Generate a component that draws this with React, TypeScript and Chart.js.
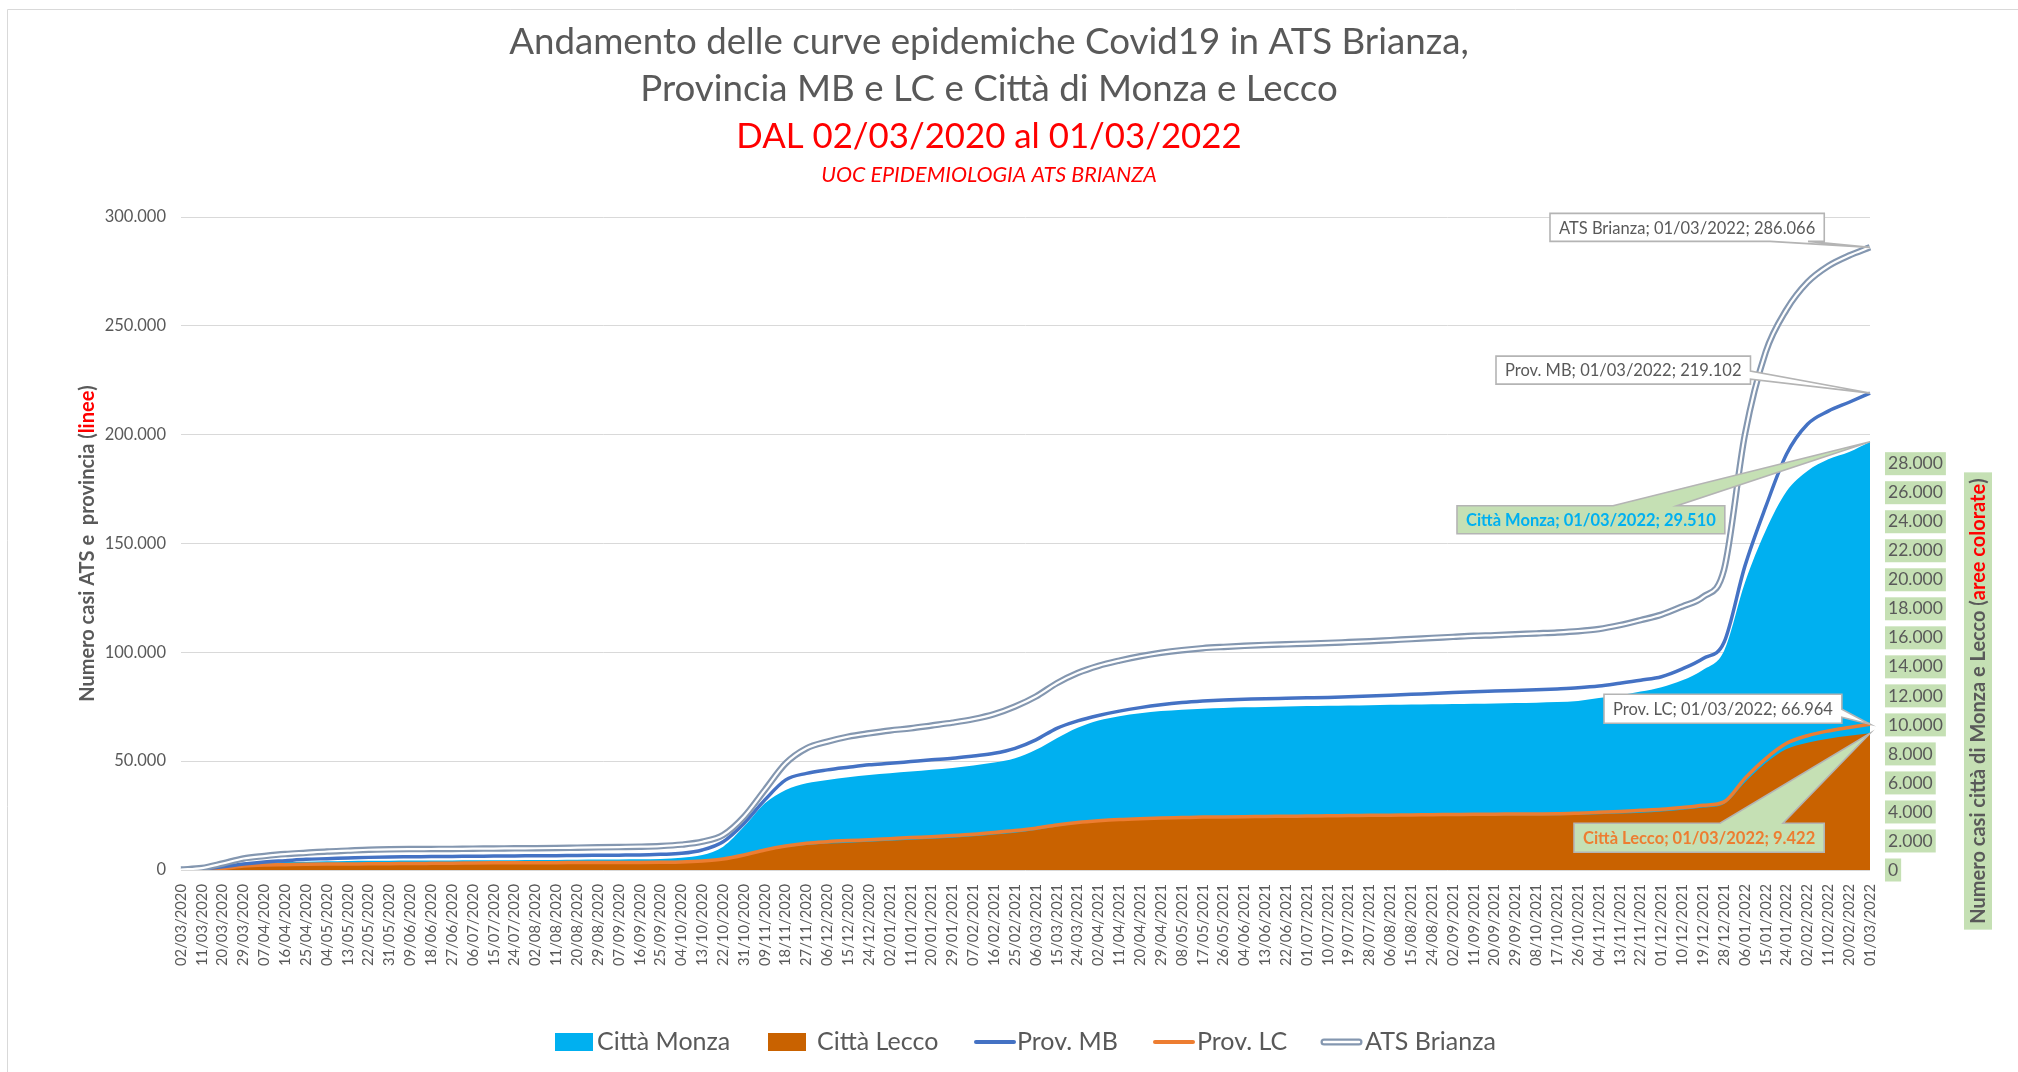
import React, { useEffect, useRef } from 'react';
import { Chart, registerables } from 'chart.js';

Chart.register(...registerables);

const dateLabels = [
  '02/03/2020', '11/03/2020', '20/03/2020', '29/03/2020', '07/04/2020', '16/04/2020', '25/04/2020', '04/05/2020', '13/05/2020', '22/05/2020',
  '31/05/2020', '09/06/2020', '18/06/2020', '27/06/2020', '06/07/2020', '15/07/2020', '24/07/2020', '02/08/2020', '11/08/2020', '20/08/2020',
  '29/08/2020', '07/09/2020', '16/09/2020', '25/09/2020', '04/10/2020', '13/10/2020', '22/10/2020', '31/10/2020', '09/11/2020', '18/11/2020',
  '27/11/2020', '06/12/2020', '15/12/2020', '24/12/2020', '02/01/2021', '11/01/2021', '20/01/2021', '29/01/2021', '07/02/2021', '16/02/2021',
  '25/02/2021', '06/03/2021', '15/03/2021', '24/03/2021', '02/04/2021', '11/04/2021', '20/04/2021', '29/04/2021', '08/05/2021', '17/05/2021',
  '26/05/2021', '04/06/2021', '13/06/2021', '22/06/2021', '01/07/2021', '10/07/2021', '19/07/2021', '28/07/2021', '06/08/2021', '15/08/2021',
  '24/08/2021', '02/09/2021', '11/09/2021', '20/09/2021', '29/09/2021', '08/10/2021', '17/10/2021', '26/10/2021', '04/11/2021', '13/11/2021',
  '22/11/2021', '01/12/2021', '10/12/2021', '19/12/2021', '28/12/2021', '06/01/2022', '15/01/2022', '24/01/2022', '02/02/2022', '11/02/2022',
  '20/02/2022', '01/03/2022',
];

const atsBrianza = [
  200, 900, 3000, 5300, 6400, 7300, 7900, 8500, 8900, 9300,
  9500, 9600, 9650, 9700, 9800, 9850, 9950, 10000, 10100, 10250,
  10400, 10550, 10700, 11000, 11650, 13000, 16100, 24500, 36800, 49000,
  55900, 59000, 61300, 62800, 64100, 65100, 66400, 67700, 69300, 71600,
  75100, 79700, 85800, 90500, 93800, 96200, 98200, 99800, 101000, 101900,
  102500, 103000, 103400, 103700, 104000, 104300, 104700, 105100, 105600, 106100,
  106600, 107100, 107600, 107900, 108300, 108700, 109100, 109700, 110700, 112500,
  114800, 117300, 121100, 125500, 138000, 200000, 238000, 257500, 270000, 277500,
  282300, 286066,
];

const provMB = [
  100, 500, 1500, 2750, 3700, 4300, 4900, 5200, 5500, 5800,
  6000, 6080, 6150, 6230, 6300, 6380, 6450, 6530, 6600, 6680,
  6750, 6820, 6900, 7200, 7650, 9200, 13000, 21400, 32200, 41400,
  44400, 46000, 47200, 48300, 49000, 49800, 50600, 51300, 52400, 53600,
  55900, 59800, 65100, 68500, 71000, 73000, 74600, 75900, 76900, 77600,
  78100, 78400, 78700, 78900, 79100, 79300, 79600, 79900, 80300, 80700,
  81100, 81500, 81900, 82200, 82500, 82800, 83200, 83700, 84500, 85800,
  87200, 88800, 92400, 97200, 104600, 139600, 166900, 191100, 204800, 210800,
  214900, 219102,
];

const provLC = [
  50, 150, 700, 1800, 2300, 2450, 2600, 2700, 2760, 2830,
  2900, 2980, 3050, 3120, 3200, 3280, 3350, 3370, 3380, 3400,
  3420, 3440, 3460, 3550, 3680, 4140, 5060, 6900, 9200, 11000,
  12300, 13000, 13500, 13900, 14400, 14900, 15300, 15800, 16400, 17200,
  18100, 19200, 20700, 21800, 22600, 23200, 23600, 23900, 24100, 24300,
  24400, 24500, 24600, 24700, 24800, 24900, 25000, 25100, 25200, 25300,
  25400, 25500, 25600, 25650, 25700, 25750, 25800, 26100, 26500, 26900,
  27400, 27900, 28700, 29700, 31300, 42100, 51200, 58200, 61700, 63900,
  65500, 66964,
];

const cittaMonza = [
  0, 50, 280, 410, 500, 550, 575, 600, 620, 630,
  640, 648, 655, 662, 670, 675, 680, 685, 690, 700,
  715, 728, 740, 760, 850, 1030, 1610, 2990, 4600, 5520,
  5980, 6210, 6390, 6550, 6670, 6780, 6900, 7030, 7200, 7400,
  7700, 8280, 9080, 9800, 10300, 10600, 10800, 10950, 11050, 11120,
  11170, 11210, 11240, 11270, 11300, 11320, 11340, 11360, 11380, 11400,
  11420, 11440, 11460, 11480, 11500, 11530, 11570, 11650, 11850, 12050,
  12300, 12600, 13070, 13800, 15100, 19800, 23400, 26100, 27500, 28300,
  28800, 29510,
];

const cittaLecco = [
  0, 30, 90, 230, 300, 320, 345, 360, 370, 380,
  390, 402, 415, 428, 440, 445, 450, 455, 460, 463,
  466, 468, 470, 485, 505, 575, 690, 965, 1310, 1560,
  1720, 1820, 1880, 1950, 2020, 2090, 2160, 2230, 2320, 2440,
  2570, 2760, 2990, 3200, 3350, 3450, 3530, 3590, 3630, 3660,
  3680, 3690, 3700, 3710, 3720, 3725, 3730, 3735, 3740, 3745,
  3750, 3755, 3760, 3765, 3770, 3775, 3780, 3810, 3850, 3900,
  3950, 4030, 4150, 4300, 4550, 6030, 7370, 8330, 8770, 9050,
  9250, 9422,
];

const leftTicks = [0, 50000, 100000, 150000, 200000, 250000, 300000];
const rightTicks = [0, 2000, 4000, 6000, 8000, 10000, 12000, 14000, 16000, 18000, 20000, 22000, 24000, 26000, 28000];
const LEFT_MAX = 300000;
const RIGHT_MAX = 45000;

const TITLE_LINES = [
  'Andamento delle curve epidemiche Covid19 in ATS Brianza,',
  'Provincia MB e LC e Città di Monza e Lecco',
  'DAL 02/03/2020 al 01/03/2022',
  'UOC EPIDEMIOLOGIA ATS BRIANZA',
];

const C_MONZA = '#00B0F0';
const C_LECCO = '#C96200';
const C_MB = '#4472C4';
const C_LC = '#ED7D31';
const C_ATS = '#8497B0';
const C_GREEN = '#C5E0B4';
const C_TEXT = '#595959';
const FONT = 'Lato, "Open Sans", sans-serif';

const fmt = (v: number) => String(Math.round(v)).replace(/\B(?=(\d{3})+(?!\d))/g, '.');

type Callout = {
  text: string;
  series: number[];
  axis: 'y' | 'y1';
  dx: number; dy: number; w: number; h: number;
  edge: 'top' | 'bottom' | 'right';
  base: [number, number];
  fill: string;
  color: string;
  bold: boolean;
};

const callouts: Callout[] = [
  { text: 'ATS Brianza', series: atsBrianza, axis: 'y', dx: -320, dy: -34, w: 264, h: 28, edge: 'bottom', base: [220, 258], fill: '#FFFFFF', color: C_TEXT, bold: false },
  { text: 'Prov. MB', series: provMB, axis: 'y', dx: -374, dy: -37, w: 244, h: 28, edge: 'right', base: [15, 23], fill: '#FFFFFF', color: C_TEXT, bold: false },
  { text: 'Città Monza', series: cittaMonza, axis: 'y1', dx: -413, dy: 64, w: 263, h: 28, edge: 'top', base: [156, 220], fill: C_GREEN, color: C_MONZA, bold: true },
  { text: 'Prov. LC', series: provLC, axis: 'y', dx: -266, dy: -30, w: 229, h: 29, edge: 'right', base: [15, 23], fill: '#FFFFFF', color: C_TEXT, bold: false },
  { text: 'Città Lecco', series: cittaLecco, axis: 'y1', dx: -296, dy: 90, w: 248, h: 29, edge: 'top', base: [146, 209], fill: C_GREEN, color: C_LC, bold: true },
];

function drawRich(ctx: CanvasRenderingContext2D, parts: [string, string][], x: number, y: number) {
  const total = parts.reduce((s, [t]) => s + ctx.measureText(t).width, 0);
  let px = x - total / 2;
  ctx.textAlign = 'left';
  for (const [t, c] of parts) {
    ctx.fillStyle = c;
    ctx.fillText(t, px, y);
    px += ctx.measureText(t).width;
  }
  return total;
}

const decorPlugin = {
  id: 'decor',
  afterDraw(chart: any) {
    const ctx: CanvasRenderingContext2D = chart.ctx;
    const xs = chart.scales.x;
    ctx.save();

    // frame
    ctx.strokeStyle = '#D9D9D9';
    ctx.lineWidth = 1;
    ctx.beginPath();
    ctx.moveTo(7.5, 1072);
    ctx.lineTo(7.5, 9.5);
    ctx.lineTo(2018, 9.5);
    ctx.stroke();

    // titles
    const cx = 989;
    ctx.textAlign = 'center';
    ctx.textBaseline = 'middle';
    ctx.fillStyle = C_TEXT;
    ctx.font = `36.7px ${FONT}`;
    ctx.fillText(TITLE_LINES[0], cx, 42);
    ctx.fillText(TITLE_LINES[1], cx, 89);
    ctx.fillStyle = '#FF0000';
    ctx.font = `34.8px ${FONT}`;
    ctx.fillText(TITLE_LINES[2], cx, 137);
    ctx.font = `italic 21.5px ${FONT}`;
    ctx.fillText(TITLE_LINES[3], cx, 175);

    // left axis title
    const midY = (chart.chartArea.top + chart.chartArea.bottom) / 2;
    ctx.save();
    ctx.translate(88, midY);
    ctx.rotate(-Math.PI / 2);
    ctx.font = `bold 20px ${FONT}`;
    ctx.textBaseline = 'middle';
    drawRich(ctx, [['Numero casi ATS e  provincia (', C_TEXT], ['linee', '#FF0000'], [')', C_TEXT]], 0, 0);
    ctx.restore();

    // right axis title
    ctx.save();
    ctx.translate(1978, 701);
    ctx.rotate(-Math.PI / 2);
    ctx.font = `bold 20px ${FONT}`;
    ctx.textBaseline = 'middle';
    const rparts: [string, string][] = [['Numero casi città di Monza e Lecco (', C_TEXT], ['aree colorate', '#FF0000'], [')', C_TEXT]];
    const tw = rparts.reduce((s, [t]) => s + ctx.measureText(t).width, 0);
    ctx.fillStyle = C_GREEN;
    ctx.fillRect(-tw / 2 - 6, -14, tw + 12, 28);
    drawRich(ctx, rparts, 0, 1);
    ctx.restore();

    // callouts
    const last = dateLabels.length - 1;
    for (const c of callouts) {
      const tipX = xs.getPixelForValue(last);
      const tipY = chart.scales[c.axis].getPixelForValue(c.series[last]);
      const bx = tipX + c.dx;
      const by = tipY + c.dy;
      const label = `${c.text}; ${dateLabels[last]}; ${fmt(c.series[last])}`;
      ctx.font = `${c.bold ? 'bold ' : ''}16.5px ${FONT}`;
      const w = Math.max(c.w, ctx.measureText(label).width + 18);
      const h = c.h;
      ctx.beginPath();
      ctx.moveTo(bx, by);
      if (c.edge === 'top') {
        ctx.lineTo(bx + c.base[0], by);
        ctx.lineTo(tipX, tipY);
        ctx.lineTo(bx + c.base[1], by);
      }
      ctx.lineTo(bx + w, by);
      if (c.edge === 'right') {
        ctx.lineTo(bx + w, by + c.base[0]);
        ctx.lineTo(tipX, tipY);
        ctx.lineTo(bx + w, by + c.base[1]);
      }
      ctx.lineTo(bx + w, by + h);
      if (c.edge === 'bottom') {
        ctx.lineTo(bx + Math.min(c.base[1], w), by + h);
        ctx.lineTo(tipX, tipY);
        ctx.lineTo(bx + c.base[0], by + h);
      }
      ctx.lineTo(bx, by + h);
      ctx.closePath();
      ctx.fillStyle = c.fill;
      ctx.fill();
      ctx.strokeStyle = '#B4B4B4';
      ctx.lineWidth = 1.6;
      ctx.lineJoin = 'miter';
      ctx.stroke();
      ctx.fillStyle = c.color;
      ctx.textAlign = 'left';
      ctx.textBaseline = 'middle';
      ctx.fillText(label, bx + 9, by + h / 2 + 1);
    }

    // legend
    const ly = 1042;
    ctx.font = `25px ${FONT}`;
    ctx.textBaseline = 'middle';
    ctx.textAlign = 'left';
    ctx.fillStyle = C_MONZA;
    ctx.fillRect(555, ly - 9, 38, 18);
    ctx.fillStyle = C_TEXT;
    ctx.fillText('Città Monza', 597, ly);
    ctx.fillStyle = C_LECCO;
    ctx.fillRect(768, ly - 9, 38, 18);
    ctx.fillStyle = C_TEXT;
    ctx.fillText('Città Lecco', 817, ly);
    ctx.lineCap = 'round';
    ctx.strokeStyle = C_MB;
    ctx.lineWidth = 4;
    ctx.beginPath(); ctx.moveTo(976, ly); ctx.lineTo(1014, ly); ctx.stroke();
    ctx.fillStyle = C_TEXT;
    ctx.fillText('Prov. MB', 1017, ly);
    ctx.strokeStyle = C_LC;
    ctx.beginPath(); ctx.moveTo(1155, ly); ctx.lineTo(1193, ly); ctx.stroke();
    ctx.fillText('Prov. LC', 1197, ly);
    ctx.strokeStyle = C_ATS;
    ctx.lineWidth = 7;
    ctx.beginPath(); ctx.moveTo(1324, ly); ctx.lineTo(1359, ly); ctx.stroke();
    ctx.strokeStyle = '#FFFFFF';
    ctx.lineWidth = 2.5;
    ctx.beginPath(); ctx.moveTo(1324, ly); ctx.lineTo(1359, ly); ctx.stroke();
    ctx.fillStyle = C_TEXT;
    ctx.fillText('ATS Brianza', 1365, ly);

    ctx.restore();
  },
};

export default function App() {
  const ref = useRef<HTMLCanvasElement | null>(null);

  useEffect(() => {
    if (!ref.current) return;
    const chart = new Chart(ref.current, {
      type: 'line',
      data: {
        labels: dateLabels,
        datasets: [
          { label: 'ATS Brianza', data: atsBrianza, yAxisID: 'y', borderColor: '#FFFFFF', borderWidth: 2.2, order: 0, fill: false },
          { label: 'ATS Brianza bordo', data: atsBrianza, yAxisID: 'y', borderColor: C_ATS, borderWidth: 6.5, order: 1, fill: false },
          { label: 'Prov. MB', data: provMB, yAxisID: 'y', borderColor: C_MB, borderWidth: 3.5, order: 2, fill: false },
          { label: 'Prov. LC', data: provLC, yAxisID: 'y', borderColor: C_LC, borderWidth: 3.5, order: 3, fill: false },
          { label: 'Città Lecco', data: cittaLecco, yAxisID: 'y1', borderColor: C_LECCO, borderWidth: 0, backgroundColor: C_LECCO, order: 4, fill: 'origin' },
          { label: 'Città Monza', data: cittaMonza, yAxisID: 'y1', borderColor: C_MONZA, borderWidth: 0, backgroundColor: C_MONZA, order: 5, fill: 'origin' },
        ],
      },
      options: {
        animation: false,
        responsive: false,
        maintainAspectRatio: false,
        devicePixelRatio: 1,
        layout: { padding: { top: 217, left: 0, right: 0, bottom: 0 } },
        elements: {
          point: { radius: 0, hoverRadius: 0 },
          line: { cubicInterpolationMode: 'monotone' },
        },
        plugins: {
          legend: { display: false },
          title: { display: false },
          tooltip: { enabled: false },
        },
        scales: {
          x: {
            type: 'category',
            grid: { display: false, drawTicks: false },
            border: { display: false },
            ticks: {
              autoSkip: false,
              maxRotation: 90,
              minRotation: 90,
              padding: 14,
              color: C_TEXT,
              font: { family: FONT, size: 14.8 },
            },
            afterFit: (s: any) => { s.height = 202; },
          },
          y: {
            position: 'left',
            min: 0,
            max: LEFT_MAX,
            grid: { color: '#D9D9D9', lineWidth: 1, drawTicks: false },
            border: { display: false },
            ticks: {
              padding: 15,
              color: C_TEXT,
              font: { family: FONT, size: 16.5 },
              callback: (v: any) => fmt(Number(v)),
            },
            afterBuildTicks: (s: any) => { s.ticks = leftTicks.map((v) => ({ value: v })); },
            afterFit: (s: any) => { s.width = 181; },
          },
          y1: {
            position: 'right',
            min: 0,
            max: RIGHT_MAX,
            grid: { display: false, drawTicks: false },
            border: { display: false },
            ticks: {
              padding: 18,
              color: C_TEXT,
              font: { family: FONT, size: 17.5 },
              showLabelBackdrop: true,
              backdropColor: C_GREEN,
              backdropPadding: { top: 1, bottom: 1, left: 3, right: 3 },
              callback: (v: any) => fmt(Number(v)),
            },
            afterBuildTicks: (s: any) => { s.ticks = rightTicks.map((v) => ({ value: v })); },
            afterFit: (s: any) => { s.width = 148; },
          },
        },
      } as any,
      plugins: [decorPlugin],
    });
    return () => chart.destroy();
  }, []);

  return (
    <div style={{ position: 'fixed', left: 0, top: 0, width: 2018, height: 1072, background: '#FFFFFF', overflow: 'hidden' }}>
      <canvas ref={ref} width={2018} height={1072} style={{ display: 'block', width: 2018, height: 1072 }} />
    </div>
  );
}
